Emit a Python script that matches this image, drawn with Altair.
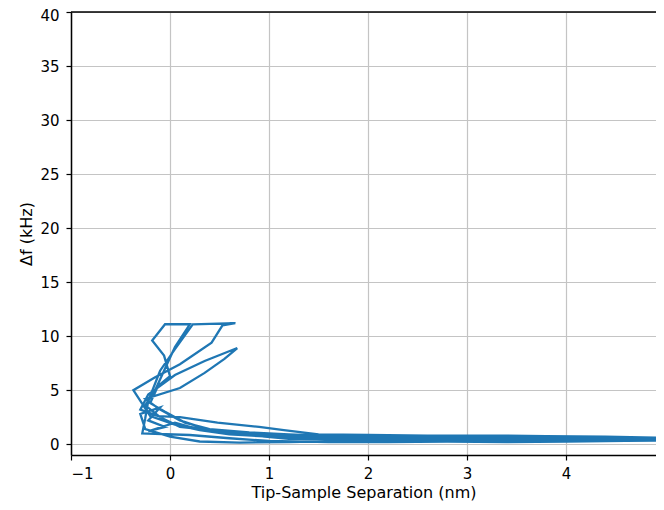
import altair as alt
import pandas as pd

# Tip-sample separation (nm) and frequency shift (kHz), in acquisition order
sep_nm = [
    0.68, 0.35, 0.05, -0.22, -0.30, -0.12, 0.10, 0.48, 0.90, 1.15, 1.50, 2.00, 2.60, 3.20, 3.80, 4.40, 5.00,
    4.50, 3.90, 3.30, 2.70, 2.10, 1.50, 1.00, 0.60, 0.30, 0.05, -0.20, -0.37, -0.15, 0.10, 0.42, 0.53, 0.66,
    0.23, 0.05, -0.10, -0.22, -0.25, -0.28, 0.20, 0.60, 1.00, 1.60, 2.20, 2.80, 3.40, 4.00, 4.60, 5.00,
    4.40, 3.70, 3.00, 2.40, 1.80, 1.20, 0.80, 0.40, 0.15, -0.05, -0.20, -0.12, 0.00, -0.06, -0.18, -0.05, 0.20,
    0.05, -0.05, -0.15, -0.25, -0.10, 0.10, 0.50, 1.00, 1.60, 2.30, 3.00, 3.60, 4.30, 5.00,
    4.50, 3.80, 3.20, 2.50, 1.80, 1.20, 0.70, 0.30, 0.00, -0.25, -0.30, -0.10, -0.22, -0.05, -0.22, 0.05, 0.20,
    0.60, 1.20, 2.00, 2.80, 3.60, 4.40, 5.00,
    4.30, 3.50, 2.70, 2.00, 1.30, 0.80, 0.40, 0.10, -0.10, -0.25, 0.10, 0.35, 0.55, 0.68,
]
df_khz = [
    8.9, 7.7, 6.4, 4.6, 3.2, 2.6, 2.5, 2.0, 1.6, 1.3, 0.9, 0.85, 0.8, 0.8, 0.75, 0.7, 0.6,
    0.3, 0.35, 0.3, 0.4, 0.45, 0.55, 0.7, 0.9, 1.3, 1.8, 2.6, 5.0, 6.2, 7.4, 9.4, 11.0, 11.2,
    11.1, 8.8, 6.8, 4.0, 2.4, 1.0, 0.85, 0.55, 0.3, 0.2, 0.2, 0.25, 0.2, 0.25, 0.3, 0.35,
    0.55, 0.6, 0.55, 0.6, 0.7, 0.9, 1.1, 1.4, 2.0, 3.0, 3.8, 5.4, 6.3, 8.2, 9.6, 11.1, 11.1,
    9.0, 7.0, 5.0, 3.6, 2.5, 1.6, 1.2, 0.9, 0.75, 0.7, 0.7, 0.65, 0.6, 0.5,
    0.4, 0.45, 0.4, 0.35, 0.3, 0.2, 0.15, 0.25, 0.7, 1.4, 2.8, 3.4, 2.2, 1.6, 1.2, 2.0, 1.6,
    1.0, 0.5, 0.45, 0.4, 0.45, 0.4, 0.35,
    0.5, 0.55, 0.5, 0.6, 0.75, 0.95, 1.3, 2.2, 3.2, 4.2, 5.2, 6.6, 7.9, 8.9,
]

x_ticks = [-1, 0, 1, 2, 3, 4]
y_ticks = [0, 5, 10, 15, 20, 25, 30, 35, 40]
x_range = [-1, 4.909]
y_range = [-1, 40]

data = pd.DataFrame({"sep": sep_nm, "df": df_khz, "i": list(range(len(sep_nm)))})
top_spine = pd.DataFrame({"y": [y_range[1]]})

FONT = "DejaVu Sans"

x_enc = alt.X(
    "sep:Q",
    scale=alt.Scale(domain=x_range, nice=False, zero=False),
    axis=alt.Axis(
        values=x_ticks,
        title="Tip-Sample Separation (nm)",
        labelPadding=6,
        titlePadding=3,
    ),
)
y_enc = alt.Y(
    "df:Q",
    scale=alt.Scale(domain=y_range, nice=False, zero=False),
    axis=alt.Axis(
        values=y_ticks,
        title="Δf (kHz)",
        labelPadding=7,
        titlePadding=5,
        labelOffset={"condition": {"test": "datum.value == 40", "value": 3}, "value": 0},
    ),
)

line = (
    alt.Chart(data)
    .mark_line(color="#1f77b4", strokeWidth=2.3, clip=True)
    .encode(x=x_enc, y=y_enc, order="i:Q")
)

spine = (
    alt.Chart(top_spine)
    .mark_rule(color="black", strokeWidth=1.5)
    .encode(y=alt.Y("y:Q"), x=alt.value(0), x2=alt.value(585))
)

chart = (
    alt.layer(line, spine)
    .properties(
        width=585,
        height=443,
        autosize=alt.AutoSizeParams(type="none"),
        padding={"left": 63, "top": 4, "right": 0, "bottom": 47},
    )
    .configure_view(strokeWidth=0)
    .configure_axis(
        labelFont=FONT,
        titleFont=FONT,
        labelFontSize=15,
        titleFontSize=16,
        labelColor="black",
        titleColor="black",
        titleFontWeight="normal",
        domainColor="black",
        domainWidth=1.5,
        tickColor="black",
        tickSize=5,
        tickWidth=1.2,
        gridColor="#c4c4c4",
        gridWidth=1.2,
    )
)

chart.save("out.html", embed_options={"renderer": "svg", "actions": False})
